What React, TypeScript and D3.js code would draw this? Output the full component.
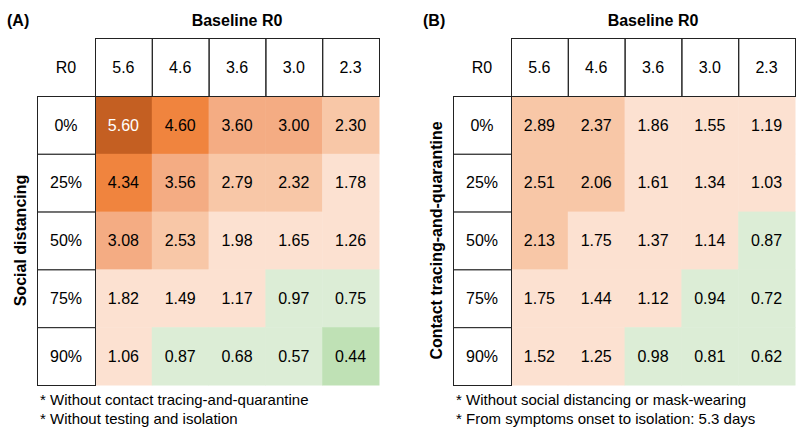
import React from 'react';
import * as d3 from 'd3';

const baselineR0 = ['5.6', '4.6', '3.6', '3.0', '2.3'];
const levels = ['0%', '25%', '50%', '75%', '90%'];

// panel A: social distancing
const socialValues = [
  [5.6, 4.6, 3.6, 3.0, 2.3],
  [4.34, 3.56, 2.79, 2.32, 1.78],
  [3.08, 2.53, 1.98, 1.65, 1.26],
  [1.82, 1.49, 1.17, 0.97, 0.75],
  [1.06, 0.87, 0.68, 0.57, 0.44],
];
// panel B: contact tracing-and-quarantine
const tracingValues = [
  [2.89, 2.37, 1.86, 1.55, 1.19],
  [2.51, 2.06, 1.61, 1.34, 1.03],
  [2.13, 1.75, 1.37, 1.14, 0.87],
  [1.75, 1.44, 1.12, 0.94, 0.72],
  [1.52, 1.25, 0.98, 0.81, 0.62],
];

const panels = [
  {
    tag: '(A)',
    yLabel: 'Social distancing',
    values: socialValues,
    notes: ['* Without contact tracing-and-quarantine', '* Without testing and isolation'],
  },
  {
    tag: '(B)',
    yLabel: 'Contact tracing-and-quarantine',
    values: tracingValues,
    notes: ['* Without social distancing or mask-wearing', '* From symptoms onset to isolation: 5.3 days'],
  },
];

const color = d3
  .scaleThreshold<number, string>()
  .domain([0.5, 1, 2, 3, 4, 5])
  .range(['#bfe1b5', '#dcedd6', '#fce1d1', '#f8c7a7', '#f4ac83', '#f0843e', '#c45f22']);

const font = '"Liberation Sans", Arial, Helvetica, sans-serif';

const Panel = ({ p, dx }: { p: (typeof panels)[number]; dx: number }) => {
  const gridLeft = 95;
  const gridRight = 379;
  const headTop = 38;
  const rowTop = 96;
  const rowBottom = 385;
  const labelLeft = 37;

  const x = d3.scaleBand().domain(baselineR0).range([gridLeft, gridRight]);
  const y = d3.scaleBand().domain(levels).range([rowTop, rowBottom]);
  const cx = (gridLeft + gridRight) / 2;

  return (
    <g transform={`translate(${dx},0)`} fontFamily={font}>
      <text x={7} y={26} fontSize={16} fontWeight="bold">{p.tag}</text>
      <text x={cx} y={26} fontSize={16} fontWeight="bold" textAnchor="middle">Baseline R0</text>

      {/* heat cells */}
      {p.values.map((row, i) =>
        row.map((v, j) => (
          <g key={`${i}-${j}`}>
            <rect
              x={x(baselineR0[j])}
              y={y(levels[i])}
              width={x.bandwidth() + 0.5}
              height={y.bandwidth() + 0.5}
              fill={color(v)}
            />
            <text
              x={x(baselineR0[j])! + x.bandwidth() / 2}
              y={y(levels[i])! + y.bandwidth() / 2}
              dy="0.35em"
              textAnchor="middle"
              fontSize={16}
              fill={v >= 5 ? '#fff' : '#000'}
            >
              {v.toFixed(2)}
            </text>
          </g>
        ))
      )}

      {/* header row */}
      <text x={(labelLeft + gridLeft) / 2} y={(headTop + rowTop) / 2} dy="0.35em" textAnchor="middle" fontSize={16}>R0</text>
      {baselineR0.map(b => (
        <g key={b}>
          <rect x={x(b)! + 0.5} y={headTop + 0.5} width={x.bandwidth()} height={rowTop - headTop} fill="none" stroke="#222" />
          <text x={x(b)! + x.bandwidth() / 2} y={(headTop + rowTop) / 2} dy="0.35em" textAnchor="middle" fontSize={16}>{b}</text>
        </g>
      ))}

      {/* row labels */}
      {levels.map(l => (
        <g key={l}>
          <rect x={labelLeft + 0.5} y={y(l)! + 0.5} width={gridLeft - labelLeft} height={y.bandwidth()} fill="#fff" stroke="#222" />
          <text x={(labelLeft + gridLeft) / 2} y={y(l)! + y.bandwidth() / 2} dy="0.35em" textAnchor="middle" fontSize={16}>{l}</text>
        </g>
      ))}

      <text
        transform={`translate(20,${(rowTop + rowBottom) / 2}) rotate(-90)`}
        dy="0.35em"
        textAnchor="middle"
        fontSize={16}
        fontWeight="bold"
      >
        {p.yLabel}
      </text>

      {p.notes.map((n, k) => (
        <text key={n} x={40} y={405 + k * 19} fontSize={15}>{n}</text>
      ))}
    </g>
  );
};

export default function App() {
  return (
    <svg width={796} height={428} style={{ position: 'absolute', left: 0, top: 0, background: '#fff' }}>
      {panels.map((p, i) => (
        <Panel key={p.tag} p={p} dx={i * 416} />
      ))}
    </svg>
  );
}
